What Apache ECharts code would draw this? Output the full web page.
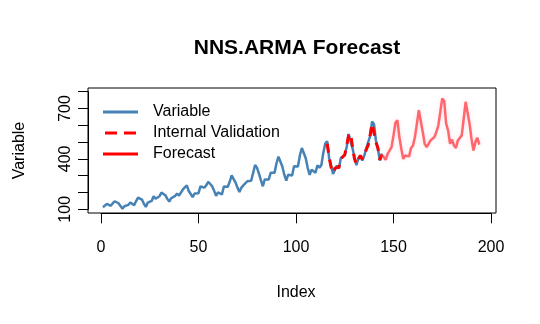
<!DOCTYPE html>
<html>
<head>
<meta charset="utf-8">
<script src="https://cdn.jsdelivr.net/npm/echarts@6/dist/echarts.min.js"></script>
<style>html,body{margin:0;padding:0;background:#fff}#c{width:540px;height:324px}</style>
</head>
<body>
<div id="c"></div>
<script>
// Observed series (AirPassengers-like), index 1..144
const variableValues = [112,118,132,129,121,135,148,148,136,119,104,118,
115,126,141,135,125,149,170,170,158,133,114,140,
145,150,178,163,172,178,199,199,184,162,146,166,
171,180,193,181,183,218,230,242,209,191,172,194,
196,196,236,235,229,243,264,272,237,211,180,201,
204,188,235,227,234,264,302,293,259,229,203,229,
242,233,267,269,270,315,364,347,312,274,237,278,
284,277,317,313,318,374,413,405,355,306,271,306,
315,301,356,348,355,422,465,467,404,347,305,336,
340,318,362,348,363,435,491,505,404,359,310,337,
360,342,406,396,420,472,548,559,463,407,362,405,
417,391,419,461,472,535,622,606,508,461,390,432];
const variableStart = 1;
// Internal validation, index 116..144
const validationValues = [490,410,350,318,345,352,350,400,400,425,480,540,552,470,400,370,398,420,400,415,455,480,540,610,610,500,465,395,425];
const validationStart = 116;
// Forecast, index 144..194
const forecastValues = [425,410,395,430,440,470,540,615,630,530,460,400,420,
425,415,465,480,530,610,690,690,560,490,470,490,
510,500,530,560,600,680,760,745,610,570,490,515,
480,465,510,515,540,640,740,735,610,520,450,500,525,485];
const forecastStart = 144;
const xTicks = [0,50,100,150,200];
const yTickLabels = [100,400,700];

const toPairs = (vals, start) => vals.map((v,i)=>[start+i, v]);
const font = 'Liberation Sans, Arial, sans-serif';
const lineIcon = 'path://M0,0h35v3h-35z';
const dashIcon = 'path://M0,0h12v3h-12z M19,0h12v3h-12z';

const chart = echarts.init(document.getElementById('c'), null, {renderer:'canvas'});
chart.setOption({
  animation:false,
  backgroundColor:'#fff',
  title:{text:'NNS.ARMA Forecast', left:292, top:33, textAlign:'center',
    textStyle:{fontFamily:font, fontWeight:'bold', fontSize:21, color:'#000'}},
  legend:{
    orient:'vertical', left:98, top:99, itemWidth:35, itemHeight:3, itemGap:5,
    textStyle:{fontFamily:font, fontSize:16, color:'#000', padding:[0,0,0,10]},
    data:[
      {name:'Variable', icon:lineIcon},
      {name:'Internal Validation', icon:dashIcon},
      {name:'Forecast', icon:lineIcon, itemStyle:{color:'#FF0000'}}
    ]
  },
  grid:[
    {left:101, right:49, top:91.7, bottom:114.7, show:false},
    {left:88, right:44, top:88, bottom:111, show:true, borderColor:'#000', borderWidth:1, backgroundColor:'transparent'}
  ],
  xAxis:[
    {type:'value', gridIndex:0, min:0, max:200, interval:50, offset:4,
     axisLine:{show:true, onZero:false, lineStyle:{color:'#000', width:1}},
     axisTick:{show:true, inside:false, length:10, lineStyle:{color:'#000'}},
     splitLine:{show:false},
     axisLabel:{fontFamily:font, fontSize:16, color:'#000', margin:26},
     name:'Index', nameLocation:'middle', nameGap:71,
     nameTextStyle:{fontFamily:font, fontSize:16, color:'#000'}},
    {type:'value', gridIndex:1, min:0, max:1, show:false}
  ],
  yAxis:[
    {type:'value', gridIndex:0, min:100, max:800, interval:100, offset:13,
     axisLine:{show:true, onZero:false, lineStyle:{color:'#000', width:1}},
     axisTick:{show:true, inside:false, length:10, lineStyle:{color:'#000'}},
     splitLine:{show:false},
     axisLabel:{fontFamily:font, fontSize:16, color:'#000', margin:14, rotate:90,
       formatter:(v)=> yTickLabels.includes(v) ? String(v) : ''},
     name:'Variable', nameLocation:'middle', nameGap:60,
     nameTextStyle:{fontFamily:font, fontSize:16, color:'#000'}},
    {type:'value', gridIndex:1, min:0, max:1, show:false}
  ],
  series:[
    {name:'Variable', type:'line', xAxisIndex:0, yAxisIndex:0, symbol:'none',
     data:toPairs(variableValues, variableStart),
     lineStyle:{color:'#4682B4', width:2.5}, itemStyle:{color:'#4682B4'}, z:2},
    {name:'Internal Validation', type:'line', xAxisIndex:0, yAxisIndex:0, symbol:'none',
     data:toPairs(validationValues, validationStart),
     lineStyle:{color:'#FF0000', width:3, type:[9,7]}, itemStyle:{color:'#FF0000'}, z:3},
    {name:'Forecast', type:'line', xAxisIndex:0, yAxisIndex:0, symbol:'none',
     data:toPairs(forecastValues, forecastStart),
     lineStyle:{color:'rgba(255,50,60,0.72)', width:2.5, shadowColor:'rgba(255,120,140,0.35)', shadowBlur:4},
     itemStyle:{color:'#FF0000'}, z:3}
  ]
});
</script>
</body>
</html>
